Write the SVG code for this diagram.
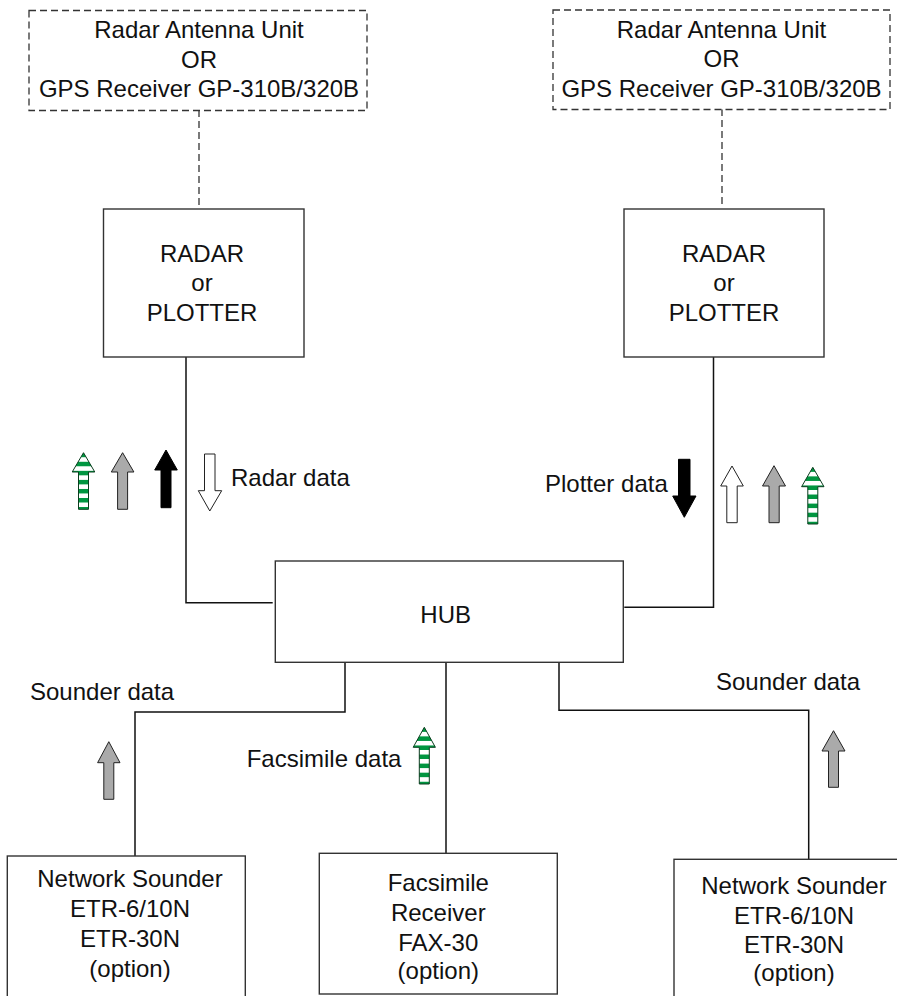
<svg xmlns="http://www.w3.org/2000/svg" width="897" height="996" viewBox="0 0 897 996">
<defs>
<pattern id="stripes" patternUnits="objectBoundingBox" patternContentUnits="objectBoundingBox" x="0" y="0" width="1" height="0.16">
<rect x="0" y="0" width="1" height="0.16" fill="#ffffff"/>
<rect x="0" y="0" width="1" height="0.08" fill="#009640"/>
</pattern>
</defs>
<style>
text{font-family:"Liberation Sans",Arial,Helvetica,sans-serif;font-size:24px;fill:#111}
.c{text-anchor:middle}
.box{fill:#fff;stroke:#333;stroke-width:1.4}
.dbox{fill:#fff;stroke:#333;stroke-width:1.3;stroke-dasharray:7,4}
.wire{fill:none;stroke:#111;stroke-width:1.5}
.dwire{fill:none;stroke:#333;stroke-width:1.3;stroke-dasharray:7,4}
.ablack{fill:#000;stroke:#000;stroke-width:1}
.agray{fill:#aaaaaa;stroke:#222;stroke-width:1}
.awhite{fill:#fff;stroke:#222;stroke-width:1}
.agreen{fill:url(#stripes);stroke:#0b3d1e;stroke-width:1}
</style>

<g id="connectors">
<path class="dwire" d="M199,110 V207"/>
<path class="dwire" d="M722,109 V207"/>
<path class="wire" d="M186,357 V602.7 H272.7"/>
<path class="wire" d="M713.5,357 V607.3 H624.3"/>
<path class="wire" d="M345,662.3 V712 H135 V856"/>
<path class="wire" d="M446,662.3 V853.3"/>
<path class="wire" d="M559,662.3 V710.3 H808.7 V859.3"/>
</g>

<g id="antenna-left">
<rect class="dbox" x="29" y="10.5" width="338" height="100"/>
<text class="c" x="199" y="38">Radar Antenna Unit</text>
<text class="c" x="199" y="67.5">OR</text>
<text class="c" x="199" y="97">GPS Receiver GP-310B/320B</text>
</g>

<g id="antenna-right">
<rect class="dbox" x="553" y="10" width="337" height="99.5"/>
<text class="c" x="721.5" y="37.5">Radar Antenna Unit</text>
<text class="c" x="721.5" y="67">OR</text>
<text class="c" x="721.5" y="96.7">GPS Receiver GP-310B/320B</text>
</g>

<g id="radar-left">
<rect class="box" x="103.5" y="209" width="200.5" height="148"/>
<text class="c" x="202" y="262">RADAR</text>
<text class="c" x="202" y="291">or</text>
<text class="c" x="202" y="320.5">PLOTTER</text>
</g>

<g id="radar-right">
<rect class="box" x="624" y="209" width="200" height="148"/>
<text class="c" x="724" y="262">RADAR</text>
<text class="c" x="724" y="291">or</text>
<text class="c" x="724" y="320.5">PLOTTER</text>
</g>

<g id="hub">
<rect class="box" x="275.3" y="561" width="348" height="101.3"/>
<text class="c" x="445.7" y="622.7">HUB</text>
</g>

<g id="sounder-left">
<rect class="box" x="7.3" y="856" width="238" height="160"/>
<text class="c" x="130" y="887.3">Network Sounder</text>
<text class="c" x="130" y="917.3">ETR-6/10N</text>
<text class="c" x="130" y="947.3">ETR-30N</text>
<text class="c" x="130" y="976.5">(option)</text>
</g>

<g id="facsimile">
<rect class="box" x="319.3" y="853.3" width="238" height="140.7"/>
<text class="c" x="438.3" y="890.5">Facsimile</text>
<text class="c" x="438.3" y="920.5">Receiver</text>
<text class="c" x="438.3" y="950.5">FAX-30</text>
<text class="c" x="438.3" y="978.5">(option)</text>
</g>

<g id="sounder-right">
<rect class="box" x="674" y="859.3" width="240" height="160"/>
<text class="c" x="794" y="894.3">Network Sounder</text>
<text class="c" x="794" y="923.5">ETR-6/10N</text>
<text class="c" x="794" y="953.3">ETR-30N</text>
<text class="c" x="794" y="981">(option)</text>
</g>

<g id="labels">
<text x="231" y="485.7">Radar data</text>
<text x="545" y="491.7">Plotter data</text>
<text x="30" y="700">Sounder data</text>
<text x="716" y="690">Sounder data</text>
<text x="246.7" y="767.3">Facsimile data</text>
</g>

<g id="arrows">
<polygon class="agreen" points="83.5,452.7 94.8,472 88.5,472 88.5,509.3 78.5,509.3 78.5,472 72.2,472"/>
<polygon class="agray" points="122.6,452.7 133.9,472 127.6,472 127.6,509.3 117.6,509.3 117.6,472 111.3,472"/>
<polygon class="ablack" points="166,450 177.3,470 171,470 171,507.7 161,507.7 161,470 154.7,470"/>
<polygon class="awhite" points="204.5,454 215,454 215,490.7 221.7,490.7 209.8,511 198.3,490.7 204.5,490.7"/>
<polygon class="ablack" points="678.5,459.3 690,459.3 690,496 696,496 684.3,517.3 672.7,496 678.5,496"/>
<polygon class="awhite" points="732,466 743.3,486 737.2,486 737.2,522.7 726.8,522.7 726.8,486 720.7,486"/>
<polygon class="agray" points="774,465.7 785.5,486 779.2,486 779.2,522.7 769,522.7 769,486 762.5,486"/>
<polygon class="agreen" points="812.8,467.3 824,486.7 817.8,486.7 817.8,524 807.8,524 807.8,486.7 801.6,486.7"/>
<polygon class="agray" points="108.8,741.7 120,762.7 113.8,762.7 113.8,799.3 103.8,799.3 103.8,762.7 97.6,762.7"/>
<polygon class="agreen" points="424.3,727.3 435.4,747.3 429.3,747.3 429.3,784 419.3,784 419.3,747.3 413.2,747.3"/>
<polygon class="agray" points="833.5,730.7 845,751 838.5,751 838.5,787.3 828.5,787.3 828.5,751 822,751"/>
</g>
</svg>
